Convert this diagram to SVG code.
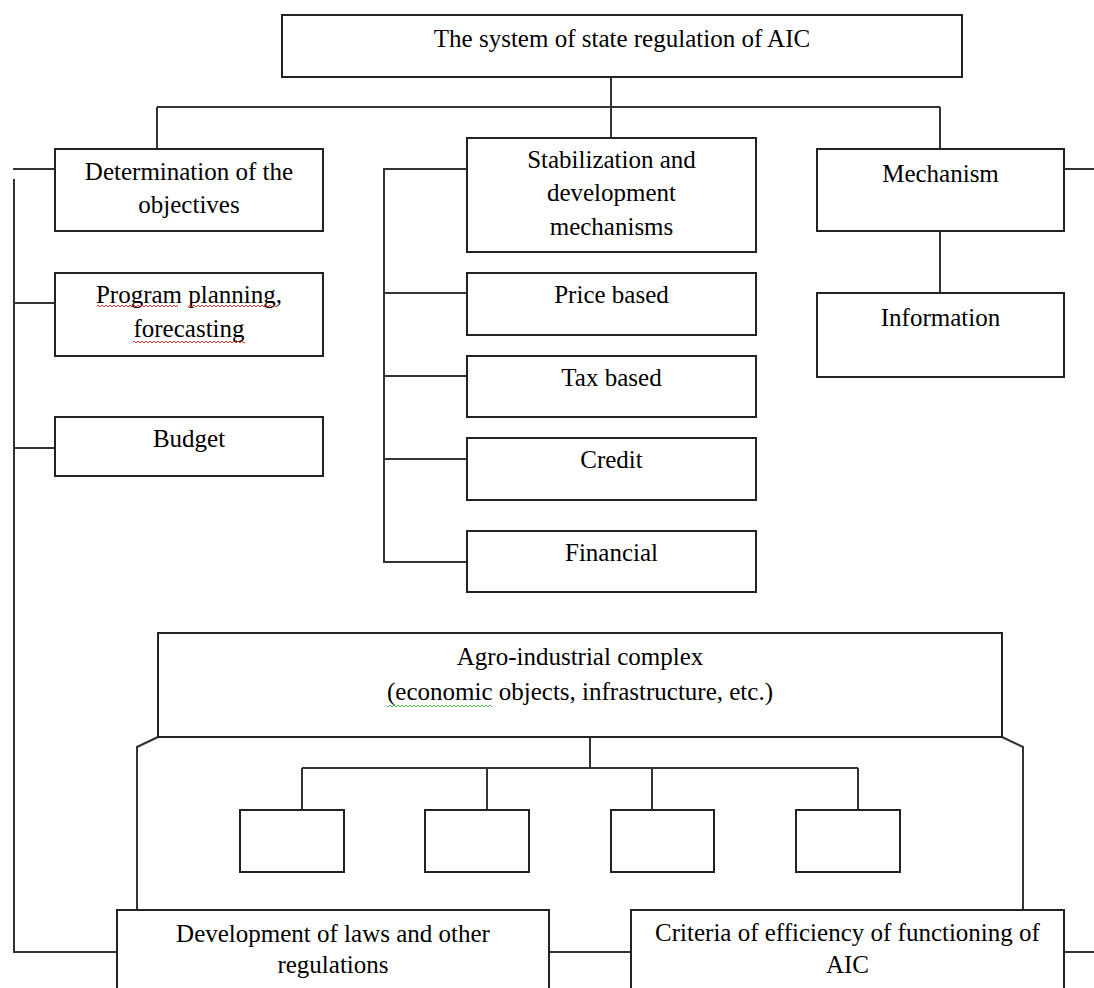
<svg xmlns="http://www.w3.org/2000/svg" width="1094" height="988" viewBox="0 0 1094 988">
<style>
.box{fill:#fff;stroke:#222;stroke-width:2}
.con{fill:none;stroke:#333;stroke-width:2}
text{font-family:"Liberation Serif","Times New Roman",serif;font-size:25px;fill:#000;text-anchor:middle}
</style>
<defs>
<pattern id="wavyR" width="4" height="4" patternUnits="userSpaceOnUse"><path d="M0 3 L2 1 L4 3" fill="none" stroke="#e02020" stroke-width="0.9"/></pattern>
<pattern id="wavyG" width="4" height="4" patternUnits="userSpaceOnUse"><path d="M0 3 L2 1 L4 3" fill="none" stroke="#3aa83a" stroke-width="0.9"/></pattern>
</defs>
<rect width="1094" height="988" fill="#fff"/>
<g id="connectors">
<path class="con" d="M611 77 V107 M157 107 H940 M157 107 V149 M611 107 V138 M940 107 V149"/>
<path class="con" d="M13 169 H55 M14 179 V952 H117 M14 303 H55 M14 448 H55"/>
<path class="con" d="M467 169 H384 V562 H467 M384 293 H467 M384 376 H467 M384 459 H467"/>
<path class="con" d="M1064 169 H1094 M940 231 V293"/>
<path class="con" d="M590 737 V768 M302 768 H858 M302 768 V810 M487 768 V810 M652 768 V810 M858 768 V810"/>
<path class="con" d="M158 737 L137 747 V910 M1002 737 L1023 747 V910"/>
<path class="con" d="M549 952 H631 M1064 952 H1094"/>
</g>
<g id="n-top"><rect class="box" x="282" y="15" width="680" height="62"/><text x="622" y="47">The system of state regulation of AIC</text></g>
<g id="n-det"><rect class="box" x="55" y="149" width="268" height="82"/><text x="189" y="180">Determination of the</text><text x="189" y="213">objectives</text></g>
<g id="n-prog"><rect class="box" x="55" y="273" width="268" height="83"/><text x="189" y="303">Program planning,</text><text x="189" y="337">forecasting</text>
<rect x="97" y="304" width="81" height="4" fill="url(#wavyR)"/><rect x="188" y="304" width="89" height="4" fill="url(#wavyR)"/><rect x="133" y="340" width="112" height="4" fill="url(#wavyR)"/></g>
<g id="n-budget"><rect class="box" x="55" y="417" width="268" height="59"/><text x="189" y="447">Budget</text></g>
<g id="n-stab"><rect class="box" x="467" y="138" width="289" height="114"/><text x="611.5" y="168">Stabilization and</text><text x="611.5" y="201">development</text><text x="611.5" y="235">mechanisms</text></g>
<g id="n-price"><rect class="box" x="467" y="273" width="289" height="62"/><text x="611.5" y="303">Price based</text></g>
<g id="n-tax"><rect class="box" x="467" y="356" width="289" height="61"/><text x="611.5" y="386">Tax based</text></g>
<g id="n-credit"><rect class="box" x="467" y="438" width="289" height="62"/><text x="611.5" y="468">Credit</text></g>
<g id="n-financial"><rect class="box" x="467" y="531" width="289" height="61"/><text x="611.5" y="561">Financial</text></g>
<g id="n-mech"><rect class="box" x="817" y="149" width="247" height="82"/><text x="940.5" y="182">Mechanism</text></g>
<g id="n-info"><rect class="box" x="817" y="293" width="247" height="84"/><text x="940.5" y="326">Information</text></g>
<g id="n-agro"><rect class="box" x="158" y="633" width="844" height="104"/><text x="580" y="665">Agro-industrial complex</text><text x="580" y="700">(economic objects, infrastructure, etc.)</text>
<rect x="387" y="704" width="105" height="4" fill="url(#wavyG)"/></g>
<g id="n-s1"><rect class="box" x="240" y="810" width="104" height="62"/></g>
<g id="n-s2"><rect class="box" x="425" y="810" width="104" height="62"/></g>
<g id="n-s3"><rect class="box" x="611" y="810" width="103" height="62"/></g>
<g id="n-s4"><rect class="box" x="796" y="810" width="104" height="62"/></g>
<g id="n-dev"><rect class="box" x="117" y="910" width="432" height="100"/><text x="333" y="942">Development of laws and other</text><text x="333" y="973">regulations</text></g>
<g id="n-crit"><rect class="box" x="631" y="910" width="433" height="100"/><text x="847.5" y="941">Criteria of efficiency of functioning of</text><text x="847.5" y="973">AIC</text></g>
</svg>
